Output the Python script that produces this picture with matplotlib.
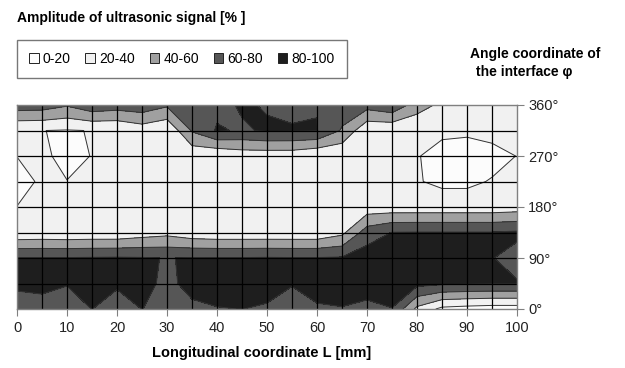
import numpy as np
import matplotlib
matplotlib.use("Agg")
import matplotlib.pyplot as plt
from matplotlib.patches import Patch

plt.rcParams['font.family'] = ['Liberation Sans', 'DejaVu Sans']

# Longitudinal coordinate L [mm] (columns)
L_mm = [0, 5, 10, 15, 20, 25, 30, 35, 40, 45, 50, 55, 60, 65, 70, 75, 80, 85, 90, 95, 100]
# Angle coordinate of the interface (rows)
angles = [0, 45, 90, 135, 180, 225, 270, 315, 360]

# Amplitude of ultrasonic signal [%] per angle row
amp_000 = [68, 73, 62, 80.5, 64, 80.5, 70, 75, 79, 80.3, 77, 65, 77, 79, 74.5, 79.5, 35, 15, 12, 10, 10]
amp_045 = [85, 85, 82, 88, 85, 88, 74, 88, 90, 90, 90, 82, 90, 90, 90, 90, 86, 83, 82, 81, 81]
amp_090 = [81, 81, 81, 81.5, 82, 81.2, 79.5, 81, 81, 81, 81.5, 81, 81, 82, 90, 90, 90, 90, 90, 80.5, 75]
amp_135 = [24, 25, 24, 25, 25, 30, 34, 27, 25, 25, 25, 25, 25, 35, 70, 80.5, 81, 81, 81, 81, 83]
amp_180 = [20.2, 25, 25, 25, 25, 27, 27, 25, 25, 25, 25, 25, 25, 25, 28, 28, 28, 28, 28, 28, 30]
amp_225 = [15, 22, 20.2, 23, 25, 26, 26, 26, 25, 26, 26, 26, 25, 25, 25, 25, 21, 17, 17, 21, 24]
amp_270 = [20.2, 22, 17, 20.3, 24, 26, 25, 25, 22, 28, 28, 28, 22, 22, 25, 25, 21, 14, 13, 15, 20.3]
amp_315 = [21, 20.2, 19, 20.5, 21, 29, 22, 62, 82, 78, 82, 81.5, 80.5, 58, 24, 23, 22, 23.4, 22.5, 25, 26]
amp_360 = [71, 70, 62, 74, 70, 73, 63, 75, 75, 82, 78.7, 76, 79.5, 70, 68, 76, 50, 35, 30, 28, 27]

levels = [0, 20, 40, 60, 80, 100]
level_labels = ['0-20', '20-40', '40-60', '60-80', '80-100']
fill_colors = ['#FCFCFC', '#F1F1F1', '#A0A0A0', '#565656', '#1E1E1E']

x_ticks = [0, 10, 20, 30, 40, 50, 60, 70, 80, 90, 100]
y_ticks = [0, 90, 180, 270, 360]
y_tick_labels = ['0°', '90°', '180°', '270°', '360°']

Z = np.array([amp_000, amp_045, amp_090, amp_135, amp_180,
              amp_225, amp_270, amp_315, amp_360])

W, H = 625, 368
fig = plt.figure(figsize=(W / 100, H / 100), dpi=100)
ax = fig.add_axes([17 / W, (H - 309) / H, 500 / W, 204 / H])

ax.contourf(L_mm, angles, Z, levels=levels, colors=fill_colors)
ax.contour(L_mm, angles, Z, levels=levels[1:-1], colors='#333333', linewidths=0.7)

for x in L_mm[1:-1]:
    ax.axvline(x, color='black', lw=0.9, zorder=3)
for a in angles[1:-1]:
    ax.axhline(a, color='black', lw=0.9, zorder=3)

ax.set_xlim(0, 100)
ax.set_ylim(0, 360)
ax.yaxis.tick_right()
ax.set_yticks(y_ticks)
ax.set_yticklabels(y_tick_labels)
ax.set_xticks(x_ticks)
ax.tick_params(axis='both', direction='out', length=5, width=0.8, color='#808080',
               labelsize=10.5, labelcolor='#222222')
ax.tick_params(axis='x', pad=4)
ax.tick_params(axis='y', pad=3)
for s in ax.spines.values():
    s.set_color('#808080')
    s.set_linewidth(1.0)
    s.set_zorder(4)

fig.text(17 / W, 1 - 22 / H, 'Amplitude of ultrasonic signal [% ]', fontsize=10,
         fontweight='bold', ha='left', va='baseline')
fig.text(470 / W, 1 - 58 / H, 'Angle coordinate of', fontsize=10,
         fontweight='bold', ha='left', va='baseline')
fig.text(476 / W, 1 - 76 / H, 'the interface φ', fontsize=10,
         fontweight='bold', ha='left', va='baseline')
fig.text(262 / W, 1 - 357 / H, 'Longitudinal coordinate L [mm]', fontsize=10.5,
         fontweight='bold', ha='center', va='baseline')

handles = [Patch(facecolor=c, edgecolor='#222222', linewidth=0.7) for c in fill_colors]
leg = fig.legend(handles, level_labels, ncol=5, loc='upper left',
                 bbox_to_anchor=(17 / W, 1 - 40 / H), frameon=True, fancybox=False,
                 edgecolor='#555555', fontsize=10, handlelength=0.7, handleheight=0.7,
                 handletextpad=0.3, columnspacing=1.05, borderpad=0.85, borderaxespad=0)
leg.get_frame().set_linewidth(1.0)

fig.savefig('out.png', dpi=100)
